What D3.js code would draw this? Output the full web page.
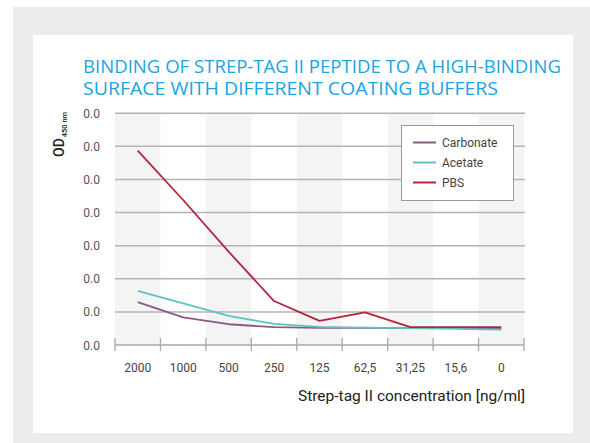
<!DOCTYPE html>
<html><head><meta charset="utf-8">
<script src="https://cdn.jsdelivr.net/npm/d3@7"></script>
<style>body{margin:0;background:#fff}svg{display:block}</style>
</head><body>
<svg id="chart" width="590" height="443"></svg>
<script>
const categories = ["2000","1000","500","250","125","62,5","31,25","15,6","0"];
const carbonate = [1.30,0.84,0.63,0.54,0.52,0.52,0.51,0.51,0.50];
const acetate   = [1.64,1.26,0.88,0.64,0.55,0.53,0.51,0.49,0.47];
const pbs       = [5.87,4.38,2.82,1.33,0.73,0.99,0.54,0.54,0.54];
const yTicks = [0,1,2,3,4,5,6,7];
const yTickLabels = ["0.0","0.0","0.0","0.0","0.0","0.0","0.0","0.0"];
const seriesNames = ["Carbonate","Acetate","PBS"];
const titleLines = ["BINDING OF STREP-TAG II PEPTIDE TO A HIGH-BINDING","SURFACE WITH DIFFERENT COATING BUFFERS"];

const series = [
  {name: seriesNames[0], values: carbonate, color: "#8a5a84"},
  {name: seriesNames[1], values: acetate, color: "#5ec3c0"},
  {name: seriesNames[2], values: pbs, color: "#b3243c"}
];

const svg = d3.select("#chart");
svg.append("rect").attr("x",13).attr("y",7).attr("width",577).attr("height",436).attr("fill","#ededed");
svg.append("rect").attr("x",33).attr("y",35).attr("width",540).attr("height",398).attr("fill","#fff");

// title
const tw = [478, 415];
titleLines.forEach((t,i)=>{
  svg.append("text").attr("x",83).attr("y",72.5+i*22.7)
    .attr("font-family","'Open Sans', sans-serif").attr("font-size",17.5)
    .attr("fill","#1ca4e2").attr("textLength",tw[i]).attr("lengthAdjust","spacingAndGlyphs")
    .text(t);
});

const x0 = 115, x1 = 524, yTop = 113.2, yBot = 345.1;
const x = d3.scaleBand().domain(categories).range([x0,x1]).padding(0);
const y = d3.scaleLinear().domain([0,7]).range([yBot,yTop]);

// bands
svg.append("g").selectAll("rect").data(categories.filter((d,i)=>i%2===0)).join("rect")
  .attr("x",d=>x(d)).attr("y",yTop).attr("width",x.bandwidth()).attr("height",yBot-yTop)
  .attr("fill","#f4f4f4");

// gridlines
svg.append("g").selectAll("line").data(yTicks.slice(1)).join("line")
  .attr("x1",x0).attr("x2",x1+1).attr("y1",d=>y(d)).attr("y2",d=>y(d))
  .attr("stroke","#b4b4b4").attr("stroke-width",1.5);

// y tick labels
svg.append("g").selectAll("text").data(yTicks).join("text")
  .attr("x",100).attr("y",d=>y(d)+4.5).attr("text-anchor","end")
  .attr("font-family","Roboto, sans-serif").attr("font-size",12).attr("fill","#555")
  .text((d,i)=>yTickLabels[i]);

// x axis
const xAxisG = svg.append("g");
xAxisG.append("line").attr("x1",x0).attr("x2",x1).attr("y1",yBot).attr("y2",yBot)
  .attr("stroke","#a8a8a8").attr("stroke-width",1.5);
const tickPos = categories.map(d=>x(d)).concat([x1]);
xAxisG.selectAll("line.t").data(tickPos).join("line").attr("class","t")
  .attr("x1",d=>d).attr("x2",d=>d).attr("y1",yBot-7).attr("y2",yBot+6)
  .attr("stroke","#a8a8a8").attr("stroke-width",1.3);
xAxisG.selectAll("text").data(categories).join("text")
  .attr("x",d=>x(d)+x.bandwidth()/2).attr("y",372)
  .attr("text-anchor","middle").attr("font-family","Roboto, sans-serif")
  .attr("font-size",12).attr("fill","#444").text(d=>d);

// axis titles
svg.append("text").attr("x",525).attr("y",400.5).attr("text-anchor","end")
  .attr("font-family","Roboto, sans-serif").attr("font-size",15).attr("fill","#222")
  .attr("textLength",227).attr("lengthAdjust","spacingAndGlyphs")
  .text("Strep-tag II concentration [ng/ml]");
const yl = svg.append("text").attr("transform","translate(63.5,157) rotate(-90)")
  .attr("font-family","Roboto, sans-serif").attr("font-size",14).attr("font-weight",500).attr("fill","#222");
yl.append("tspan").text("OD");
yl.append("tspan").attr("font-size",7.5).attr("dy",3).attr("dx",1).text("450 nm");

// lines
const line = d3.line().x((d,i)=>x(categories[i])+x.bandwidth()/2).y(d=>y(d));
svg.append("g").selectAll("path").data(series).join("path")
  .attr("d",s=>line(s.values)).attr("fill","none")
  .attr("stroke",s=>s.color).attr("stroke-width",1.8).attr("stroke-linejoin","round");

// legend
const lg = svg.append("g");
lg.append("rect").attr("x",401.5).attr("y",125.5).attr("width",112).attr("height",75)
  .attr("fill","#fff").attr("stroke","#999").attr("stroke-width",1);
series.forEach((s,i)=>{
  const yy = 142.5 + i*20;
  lg.append("line").attr("x1",413).attr("x2",436).attr("y1",yy).attr("y2",yy)
    .attr("stroke",s.color).attr("stroke-width",2);
  lg.append("text").attr("x",442).attr("y",yy+4.5).attr("font-family","Roboto, sans-serif")
    .attr("font-size",12).attr("fill","#444").text(s.name);
});
</script>
</body></html>
